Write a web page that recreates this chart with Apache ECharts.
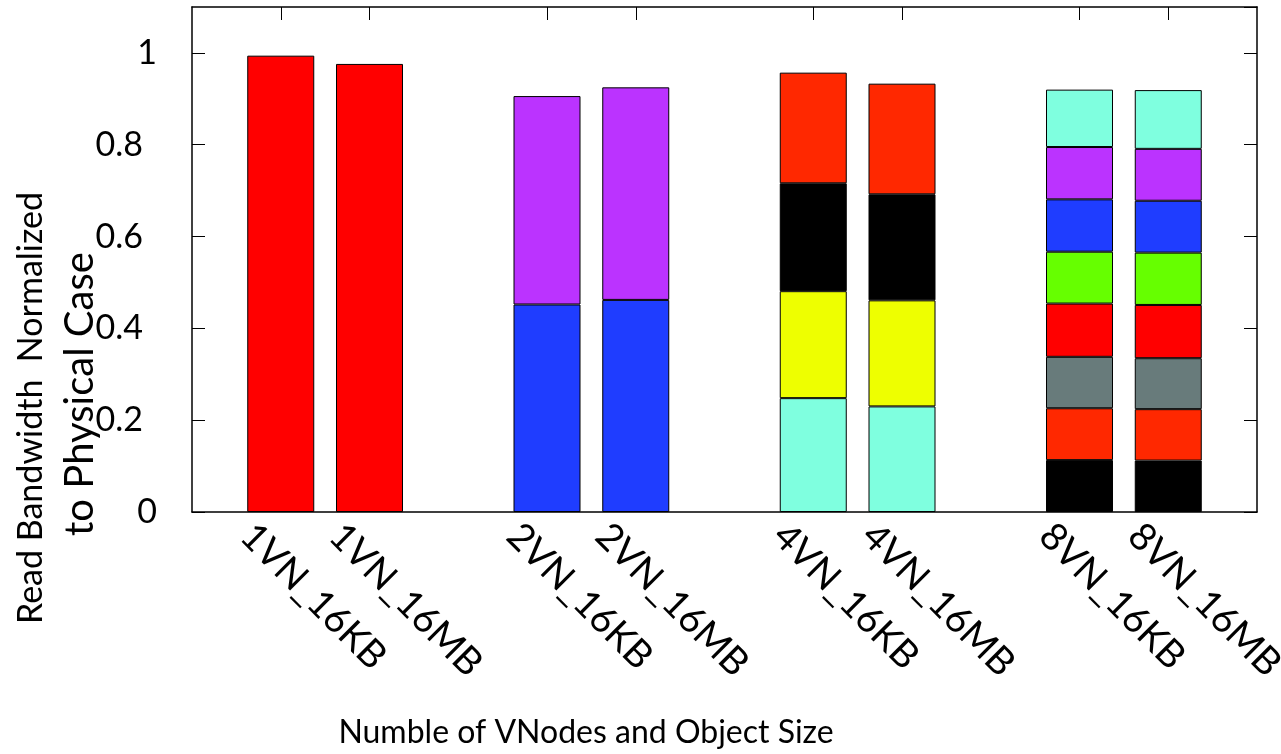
<!DOCTYPE html>
<html>
<head>
<meta charset="utf-8">
<script src="https://cdn.jsdelivr.net/npm/echarts@6/dist/echarts.min.js"></script>
<style>
html,body{margin:0;padding:0;background:#fff;}
#chart{width:1281px;height:754px;}
</style>
</head>
<body>
<div id="chart"></div>
<script>
// ---- data ----
const categories = ['', '1VN_16KB', '1VN_16MB', '', '2VN_16KB', '2VN_16MB', '', '4VN_16KB', '4VN_16MB', '', '8VN_16KB', '8VN_16MB', ''];
const yTicks = [0, 0.2, 0.4, 0.6, 0.8, 1];
const yTickLabels = ['0', '0.2', '0.4', '0.6', '0.8', '1'];

// stacked segment heights, bottom to top
const vn1_16KB = [0.994];
const vn1_16MB = [0.976];
const vn2_16KB = [0.452, 0.454];
const vn2_16MB = [0.462, 0.463];
const vn4_16KB = [0.248, 0.233, 0.235, 0.241];
const vn4_16MB = [0.230, 0.231, 0.231, 0.241];
const vn8_16KB = [0.113, 0.113, 0.112, 0.116, 0.113, 0.114, 0.114, 0.125];
const vn8_16MB = [0.112, 0.112, 0.111, 0.116, 0.114, 0.113, 0.113, 0.128];

const colors1VN = ['#ff0000'];
const colors2VN = ['#1f3dff', '#bb33ff'];
const colors4VN = ['#7fffdf', '#eeff00', '#000000', '#ff2800'];
const colors8VN = ['#000000', '#ff2800', '#687b7b', '#ff0000', '#66ff00', '#1f3dff', '#bb33ff', '#7fffdf'];

const xTitle = 'Numble of VNodes and Object Size';
const yTitle1 = 'Read Bandwidth  Normalized';
const yTitle2 = 'to Physical Case';

// ---- build ----
const groups = {
  '1VN_16KB': [vn1_16KB, colors1VN],
  '1VN_16MB': [vn1_16MB, colors1VN],
  '2VN_16KB': [vn2_16KB, colors2VN],
  '2VN_16MB': [vn2_16MB, colors2VN],
  '4VN_16KB': [vn4_16KB, colors4VN],
  '4VN_16MB': [vn4_16MB, colors4VN],
  '8VN_16KB': [vn8_16KB, colors8VN],
  '8VN_16MB': [vn8_16MB, colors8VN]
};
const tickIdx = categories.map((c, i) => c !== '' ? i : -1).filter(i => i >= 0);
const FONT = 'Lato';
const maxLayers = 8;
const series = [];
for (let k = 0; k < maxLayers; k++) {
  series.push({
    type: 'bar',
    stack: 'all',
    barWidth: 67,
    xAxisIndex: 0,
    yAxisIndex: 0,
    itemStyle: {borderColor: '#000', borderWidth: 1},
    emphasis: {disabled: true},
    data: categories.map(c => {
      const g = groups[c];
      if (!g || k >= g[0].length) return '-';
      return {value: g[0][k], itemStyle: {color: g[1][k]}};
    })
  });
}

const chart = echarts.init(document.getElementById('chart'), null, {renderer: 'canvas'});
const axisLine = {show: true, onZero: false, lineStyle: {color: '#000', width: 1.5}};
const tickStyle = {color: '#000', width: 1};
chart.setOption({
  animation: false,
  backgroundColor: '#fff',
  grid: {left: 192, right: 24, top: 7, bottom: 242, containLabel: false, outerBoundsMode: 'none'},
  xAxis: [
    {
      type: 'category', data: categories, boundaryGap: false, position: 'bottom',
      axisLine: axisLine, splitLine: {show: false}, axisTick: {show: false},
      axisLabel: {
        interval: 0, rotate: -45, margin: -16, align: 'left', verticalAlign: 'top',
        lineHeight: 96, fontSize: 38, fontFamily: FONT, color: '#000'
      }
    },
    {
      type: 'category', data: categories, boundaryGap: false, position: 'top',
      axisLine: axisLine,
      axisTick: {show: true, inside: true, length: 13, customValues: tickIdx, lineStyle: tickStyle},
      axisLabel: {show: false}, splitLine: {show: false}
    }
  ],
  yAxis: [
    {
      type: 'value', min: 0, max: 1.1, interval: 0.2, position: 'left',
      axisLine: axisLine, axisTick: {show: true, inside: true, length: 13, lineStyle: tickStyle},
      splitLine: {show: false},
      axisLabel: {
        margin: 35, showMaxLabel: false,
        formatter: v => {
          const i = yTicks.findIndex(t => Math.abs(t - v) < 1e-6);
          if (i < 0) return '';
          const s = yTickLabels[i];
          return s.indexOf('.') >= 0 ? '{d|' + s + '}' : '{n|' + s + '}';
        },
        rich: {
          d: {fontSize: 34, fontFamily: FONT, color: '#000', padding: [0, 14, 0, 0]},
          n: {fontSize: 34, fontFamily: FONT, color: '#000'}
        }
      }
    },
    {
      type: 'value', min: 0, max: 1.1, interval: 0.2, position: 'right',
      axisLine: axisLine, axisTick: {show: true, inside: true, length: 13, lineStyle: tickStyle},
      splitLine: {show: false}, axisLabel: {show: false}
    }
  ],
  graphic: [
    {type: 'text', x: 586, y: 733, style: {text: xTitle, fontSize: 32, fontFamily: FONT, fill: '#000', align: 'center', verticalAlign: 'middle'}},
    {type: 'text', x: 31, y: 408, rotation: Math.PI / 2, style: {text: yTitle1, fontSize: 34, fontFamily: FONT, fill: '#000', align: 'center', verticalAlign: 'middle'}},
    {type: 'text', x: 80, y: 394, rotation: Math.PI / 2, style: {text: yTitle2, fontSize: 40, fontFamily: FONT, fill: '#000', align: 'center', verticalAlign: 'middle'}}
  ],
  series: series
});
</script>
</body>
</html>
